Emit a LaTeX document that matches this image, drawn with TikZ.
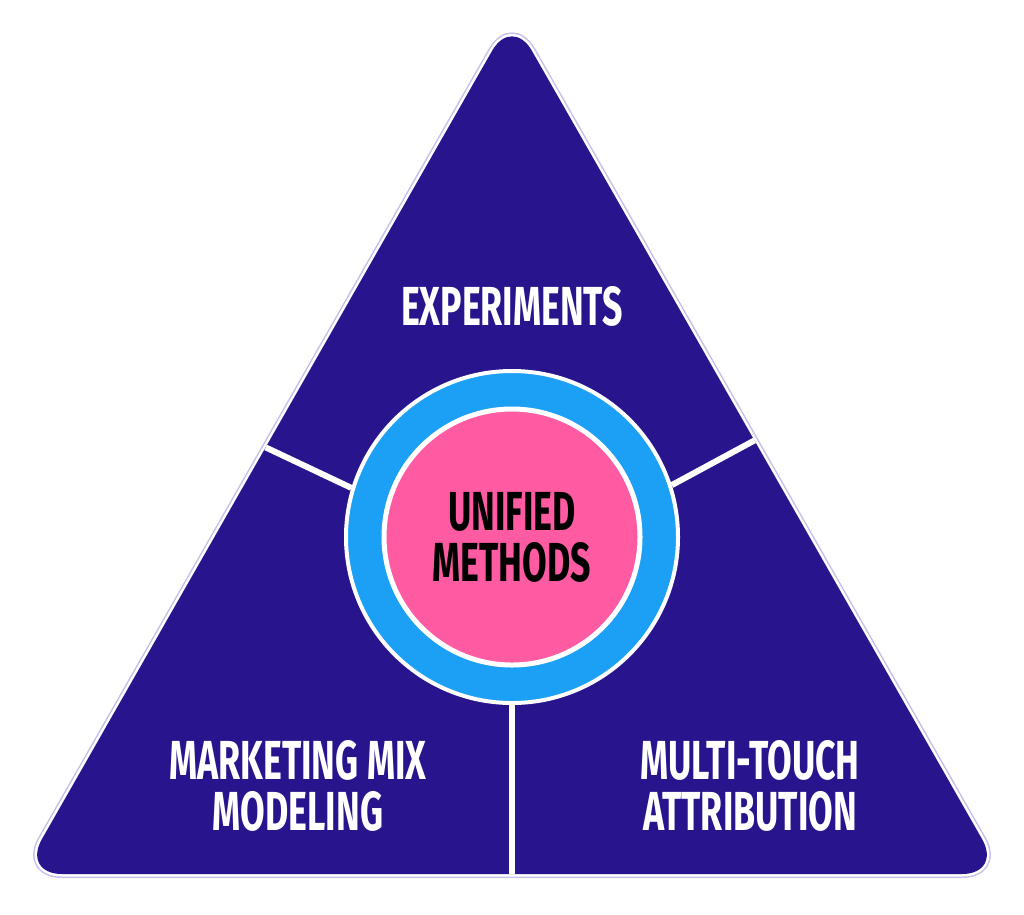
\documentclass[tikz,border=0pt]{standalone}
\usepackage{fontspec}
\newfontfamily\labelfont[FakeStretch=0.65]{Fira Sans}
\definecolor{triblue}{RGB}{40,20,140}
\definecolor{triedge}{RGB}{196,192,234}
\definecolor{ringblue}{RGB}{28,160,245}
\definecolor{corepink}{RGB}{255,91,163}

\begin{document}
\begin{tikzpicture}[x=1pt,y=1pt,yscale=-1,
  lbl/.style={inner sep=0pt,align=center,font=\labelfont\bfseries\fontsize{55}{51}\selectfont},
  divider/.style={draw=white,line width=6pt}]
\useasboundingbox (0,0) rectangle (1024,914);

% Corners of the triangle
\coordinate (apex) at (512,16);
\coordinate (right) at (1002,874);
\coordinate (left) at (22,874);

%Shape: Triangle
\draw [draw=triedge,line width=8pt,rounded corners=40pt] (apex) -- (right) -- (left) -- cycle;
\draw [draw=white,line width=5pt,rounded corners=40pt] (apex) -- (right) -- (left) -- cycle;
\fill [triblue,rounded corners=40pt] (apex) -- (right) -- (left) -- cycle;

%Shape: Rings
\node [circle,minimum size=332pt,fill=ringblue,draw=white,line width=4pt] (ring) at (512,537) {};
\node [lbl,circle,minimum size=256pt,fill=corepink,draw=white,line width=5pt,text=black] (core) at (ring.center) {UNIFIED\\METHODS};

%Straight Lines
\coordinate (mmmEdge) at (265.7,447.4);
\coordinate (mtaEdge) at (754.5,440.4);
\coordinate (baseEdge) at (512,874);
\draw [divider] (ring.163) -- (mmmEdge);
\draw [divider] (ring.18) -- (mtaEdge);
\draw [divider] (ring.south) -- (baseEdge);

% Text Node
\node [lbl,text=white] (exp) at (512,306) {EXPERIMENTS};
% Text Node
\node [lbl,text=white] (mmm) at (298,786) {MARKETING MIX\\MODELING};
% Text Node
\node [lbl,text=white] (mta) at (750,786) {MULTI-TOUCH\\ATTRIBUTION};
\end{tikzpicture}
\end{document}
